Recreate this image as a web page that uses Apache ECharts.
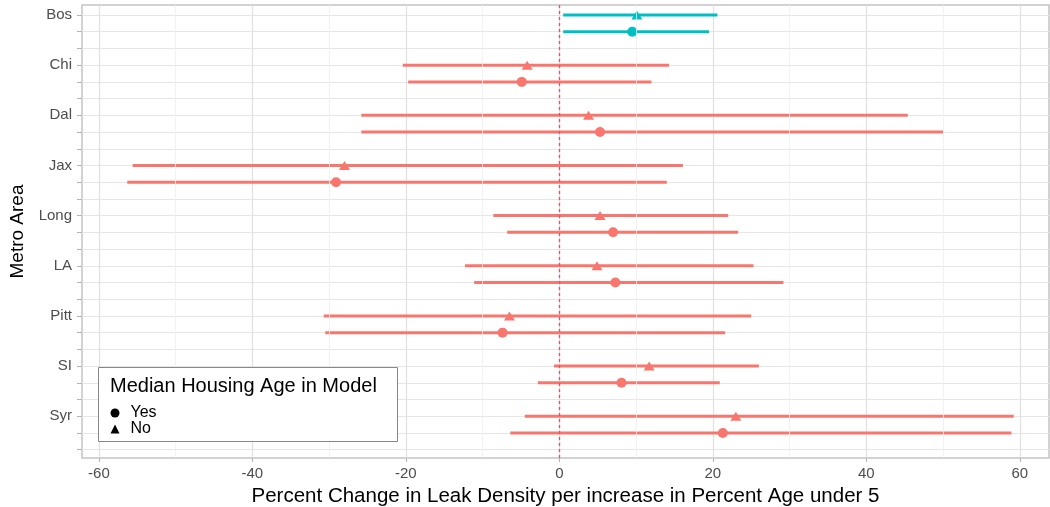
<!DOCTYPE html>
<html><head><meta charset="utf-8">
<script src="https://cdn.jsdelivr.net/npm/echarts@6/dist/echarts.min.js"></script>
<style>html,body{margin:0;padding:0;background:#fff}#c{width:1050px;height:507px}</style>
</head><body><div id="c"></div>
<script>
// ---- data ----
const metros = ['Bos', 'Chi', 'Dal', 'Jax', 'Long', 'LA', 'Pitt', 'SI', 'Syr'];
const colorGroup = ['b', 'a', 'a', 'a', 'a', 'a', 'a', 'a', 'a'];
// Median Housing Age in Model = "No" (triangle)
const noEst  = [10.1, -4.2, 3.8, -28.0, 5.3, 4.9, -6.5, 11.7, 23.0];
const noLow  = [0.5, -20.4, -25.8, -55.6, -8.6, -12.3, -30.7, -0.7, -4.5];
const noHigh = [20.6, 14.3, 45.4, 16.1, 22.0, 25.3, 25.0, 26.0, 59.2];
// Median Housing Age in Model = "Yes" (circle)
const yesEst  = [9.5, -4.9, 5.3, -29.1, 7.0, 7.3, -7.4, 8.1, 21.3];
const yesLow  = [0.5, -19.7, -25.8, -56.3, -6.8, -11.1, -30.5, -2.8, -6.4];
const yesHigh = [19.5, 12.0, 50.0, 14.0, 23.3, 29.2, 21.6, 20.9, 58.9];
const xTicks = [-60, -40, -20, 0, 20, 40, 60];
const xMinor = [-50, -30, -10, 10, 30, 50];
const zeroRef = [0];

// ---- build ----
const palette = { a: '#F8766D', b: '#00BFC4' };
const rowNo = i => 3 * i;
const rowYes = i => 3 * i + 1;
const yTickVals = [];
for (let k = 0; k < metros.length * 3; k++) yTickVals.push(k);
const yLabelVals = metros.map((m, i) => rowNo(i));

const bars = [];
const ptsYes = [];
const ptsNo = [];
metros.forEach((m, i) => {
  const col = palette[colorGroup[i]];
  bars.push({ value: [noLow[i], noHigh[i], rowNo(i)], itemStyle: { color: col } });
  bars.push({ value: [yesLow[i], yesHigh[i], rowYes(i)], itemStyle: { color: col } });
  ptsNo.push({ value: [noEst[i], rowNo(i)], itemStyle: { color: col, opacity: 1 } });
  ptsYes.push({ value: [yesEst[i], rowYes(i)], itemStyle: { color: col, opacity: 1 } });
});

const chart = echarts.init(document.getElementById('c'), null, { renderer: 'canvas' });
const font = 'Liberation Sans, Arial, Helvetica, sans-serif';
chart.setOption({
  animation: false,
  backgroundColor: '#fff',
  grid: { left: 82, top: 5, right: 1, bottom: 49, outerBoundsMode: 'none', containLabel: false,
    show: true, borderColor: '#c4c4c4', borderWidth: 1.5, backgroundColor: 'transparent' },
  xAxis: {
    type: 'value', min: -62.2, max: 63.8,
    name: 'Percent Change in Leak Density per increase in Percent Age under 5',
    nameLocation: 'middle', nameGap: 24,
    nameTextStyle: { fontSize: 20.5, color: '#000', fontFamily: font },
    axisLine: { show: false, onZero: false },
    axisTick: { show: true, customValues: xTicks, length: 4, lineStyle: { color: '#b3b3b3', width: 1 } },
    axisLabel: { customValues: xTicks, fontSize: 15, color: '#4d4d4d', fontFamily: font, margin: 8 },
    splitLine: { show: true, lineStyle: { color: '#e0e0e0', width: 1.2 } }
  },
  yAxis: {
    type: 'value', inverse: true, min: -0.6, max: 26.5,
    name: 'Metro Area', nameLocation: 'middle', nameGap: 55,
    nameTextStyle: { fontSize: 19, color: '#000', fontFamily: font },
    axisLine: { show: false, onZero: false },
    axisTick: { show: true, customValues: yTickVals, length: 5, lineStyle: { color: '#b3b3b3', width: 1 } },
    axisLabel: { customValues: yLabelVals, fontSize: 15, color: '#4d4d4d', fontFamily: font, margin: 10,
      formatter: v => metros[Math.round(v / 3)] },
    splitLine: { show: true, lineStyle: { color: '#e6e6e6', width: 1 } }
  },
  legend: {
    data: [
      { name: 'Yes', icon: 'circle', itemStyle: { color: '#000' } },
      { name: 'No', icon: 'triangle', itemStyle: { color: '#000' } }
    ],
    orient: 'vertical', left: 110.5, top: 405, padding: 0,
    itemWidth: 9, itemHeight: 9, itemGap: 0, z: 10,
    textStyle: { fontSize: 16, color: '#000', fontFamily: font, lineHeight: 14, padding: [0, 0, 0, 6] }
  },
  graphic: [
    { type: 'rect', z: 8, shape: { x: 98.5, y: 367.5, width: 299, height: 74 },
      style: { fill: '#fff', stroke: '#888', lineWidth: 1 } },
    { type: 'text', z: 9, style: { text: 'Median Housing Age in Model', x: 110, y: 386,
      font: '20px ' + font, fill: '#000', textVerticalAlign: 'middle' } }
  ],
  series: [
    {
      type: 'line', name: 'minorGrid', data: [], z: 1, silent: true,
      markLine: {
        silent: true, symbol: 'none', label: { show: false }, animation: false,
        lineStyle: { color: '#efefef', width: 0.8, type: 'solid' },
        data: xMinor.map(v => ({ xAxis: v }))
      }
    },
    {
      type: 'line', name: 'zeroLine', data: [], z: 1, silent: true,
      markLine: {
        silent: true, symbol: 'none', label: { show: false }, animation: false,
        lineStyle: { color: '#e4526b', width: 1.3, type: [3, 3], opacity: 1 },
        emphasis: { disabled: true },
        data: zeroRef.map(v => ({ xAxis: v, lineStyle: { color: '#e4526b', width: 1.3, type: [3, 3] } }))
      }
    },
    {
      type: 'custom', name: 'ci', z: 2, data: bars,
      encode: { x: [0, 1], y: 2 },
      renderItem: (params, api) => {
        const y = api.value(2);
        const a = api.coord([api.value(0), y]);
        const b = api.coord([api.value(1), y]);
        return { type: 'line', shape: { x1: a[0], y1: a[1], x2: b[0], y2: b[1] },
          style: { stroke: api.visual('color'), lineWidth: 3 } };
      }
    },
    { type: 'scatter', name: 'Yes', symbol: 'circle', symbolSize: 10, z: 3, data: ptsYes, itemStyle: { opacity: 1 } },
    { type: 'scatter', name: 'No', symbol: 'triangle', symbolSize: [11, 9], z: 3, data: ptsNo, itemStyle: { opacity: 1 } }
  ]
});
</script></body></html>
